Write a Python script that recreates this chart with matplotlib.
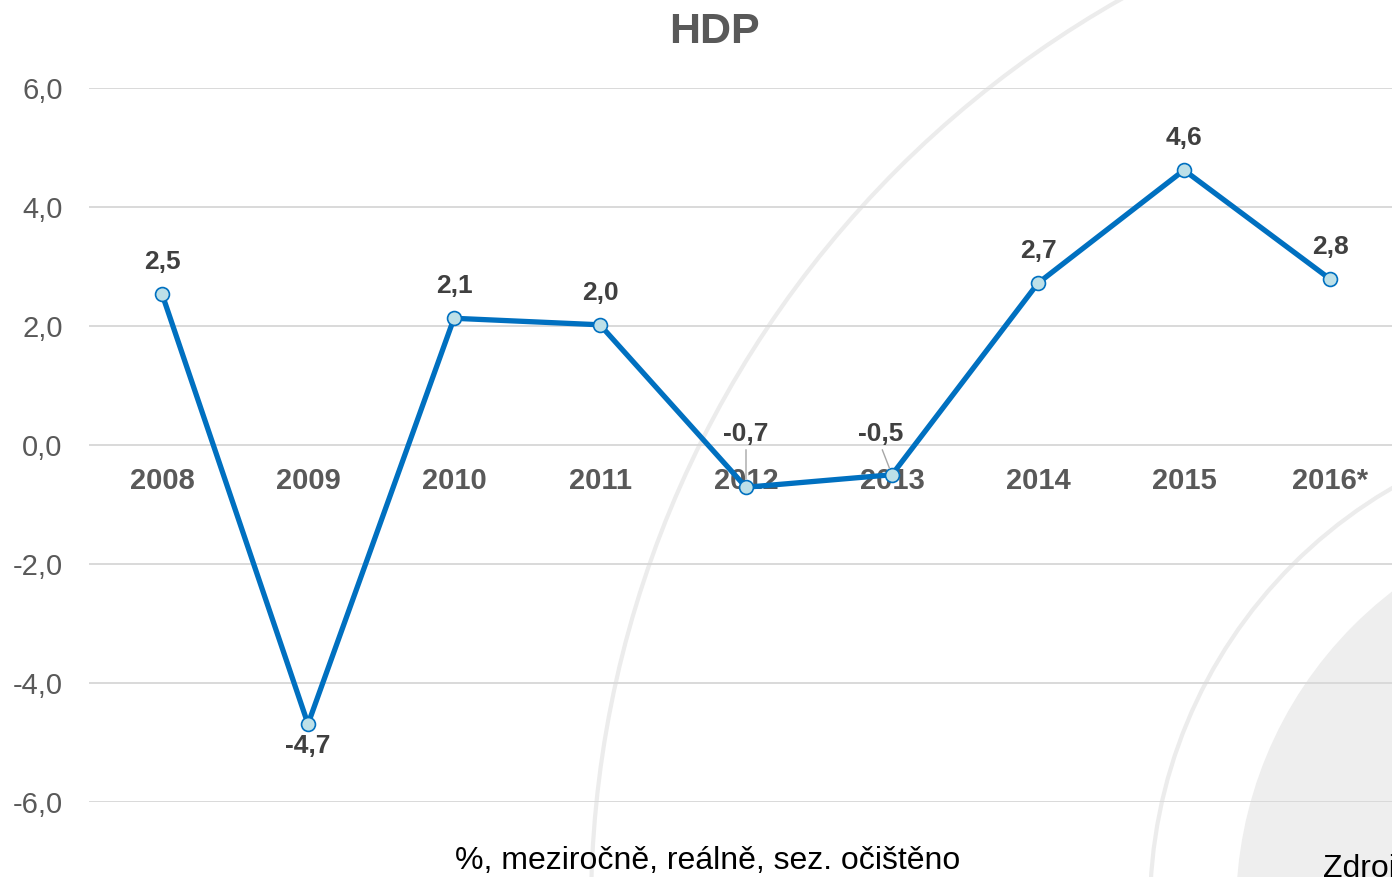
import matplotlib.pyplot as plt
from matplotlib.patches import Circle

years = ["2008", "2009", "2010", "2011", "2012", "2013", "2014", "2015", "2016*"]
hdp = [2.54, -4.69, 2.13, 2.02, -0.71, -0.50, 2.72, 4.62, 2.79]
yticks = [-6, -4, -2, 0, 2, 4, 6]

W, H = 1392, 877
plt.rcParams["font.family"] = ["Liberation Sans", "DejaVu Sans"]
fig = plt.figure(figsize=(W / 100, H / 100), dpi=100, facecolor="w")

# decorative background arcs (pixel coordinates)
bg = fig.add_axes([0, 0, 1, 1], zorder=0)
bg.set_xlim(0, W)
bg.set_ylim(H, 0)
bg.axis("off")
cx, cy = 1637, 909
bg.add_patch(Circle((cx, cy), 1046, fill=False, ec="#ececec", lw=3))
bg.add_patch(Circle((cx, cy), 487, fill=False, ec="#ececec", lw=3))
bg.add_patch(Circle((cx, cy), 401, fc="#eeeeee", ec="none"))

left = 89 / W
right = 1403 / W
bottom = 1 - 802 / H
top = 1 - 88 / H
ax = fig.add_axes([left, bottom, right - left, top - bottom], zorder=1)
ax.patch.set_alpha(0)

x = list(range(len(years)))
ax.plot(x, hdp, color="#0070c0", lw=3.8, marker="o", ms=10,
        mfc="#bde0e8", mec="#0070c0", mew=1.2, zorder=3, clip_on=False)

ax.set_xlim(-0.5, len(years) - 0.5)
ax.set_ylim(-6, 6)
ax.set_yticks(yticks)
ax.set_yticklabels([f"{v:.1f}".replace(".", ",") for v in yticks])
ax.grid(axis="y", color="#d9d9d9", lw=1.4)
ax.set_axisbelow(True)
for s in ["top", "right", "left"]:
    ax.spines[s].set_visible(False)
ax.spines["bottom"].set_position(("data", 0))
ax.spines["bottom"].set_visible(False)
ax.set_xticks(x)
ax.set_xticklabels(years, fontweight="bold")
ax.tick_params(axis="x", length=0, pad=16, labelsize=21, labelcolor="#595959")
ax.tick_params(axis="y", length=0, pad=19, labelsize=21, labelcolor="#595959")

# data labels
offsets = {1: (0, -16), 4: (0, 38), 5: (-8, 29)}
for i, v in enumerate(hdp):
    dx, dy = offsets.get(i, (0, 23))
    lab = f"{v:.1f}".replace(".", ",")
    ax.annotate(lab, (i, v), xytext=(dx, dy), textcoords="offset points",
                ha="center", va="center", fontsize=19, fontweight="bold",
                color="#404040", zorder=4)
ax.annotate("", (4, hdp[4]), xytext=(0, 27), textcoords="offset points",
            arrowprops=dict(arrowstyle="-", color="#a6a6a6", lw=1,
                            shrinkA=0, shrinkB=6))
ax.annotate("", (5, hdp[5]), xytext=(-7, 18), textcoords="offset points",
            arrowprops=dict(arrowstyle="-", color="#a6a6a6", lw=1,
                            shrinkA=0, shrinkB=5))

fig.text(714 / W, 1 - 32 / H, "HDP", ha="center", va="center",
         fontsize=31, fontweight="bold", color="#595959")
fig.text(708 / W, 1 - 861 / H, "%, meziročně, reálně, sez. očištěno",
         ha="center", va="center", fontsize=23, color="black")
fig.text(1323 / W, 1 - 866 / H, "Zdroj: ČSÚ", ha="left", va="center",
         fontsize=23, color="black")

fig.savefig("out.png", dpi=100)
